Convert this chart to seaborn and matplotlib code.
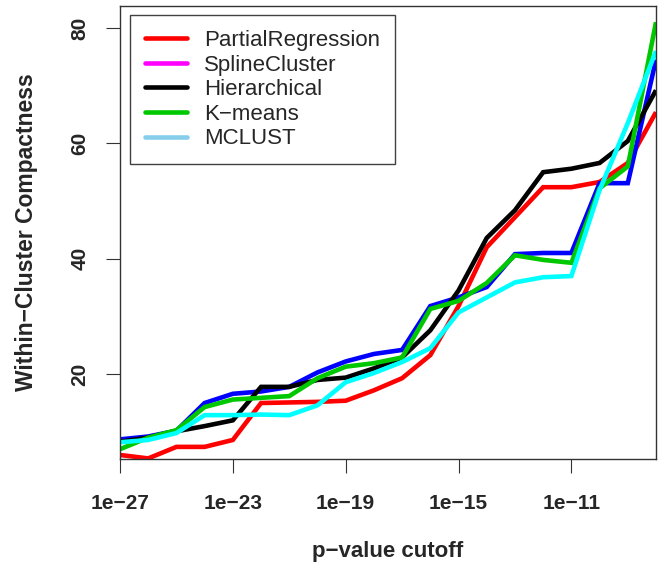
import matplotlib
matplotlib.use("Agg")
import matplotlib.pyplot as plt
from matplotlib.lines import Line2D
import numpy as np
import pandas as pd
import seaborn as sns

# ---- data ----
exponents = list(range(-27, -7))  # p-value cutoff exponents 1e-27 ... 1e-8
partial_regression = [6.0, 5.4, 7.4, 7.4, 8.6, 15.0, 15.1, 15.2, 15.4, 17.2,
                      19.3, 23.3, 31.8, 42.0, 47.2, 52.4, 52.4, 53.3, 56.6, 65.4]
spline_cluster = [8.7, 9.2, 10.2, 15.0, 16.6, 17.0, 17.8, 20.3, 22.2, 23.5,
                  24.2, 31.8, 33.3, 35.1, 40.8, 41.0, 41.0, 53.1, 53.1, 74.5]
hierarchical = [8.3, 9.0, 10.1, 11.0, 12.0, 17.8, 17.8, 19.0, 19.4, 21.0,
                22.9, 27.6, 34.5, 43.6, 48.4, 55.0, 55.6, 56.6, 60.4, 69.2]
kmeans = [7.0, 9.0, 10.3, 14.3, 15.6, 15.9, 16.2, 19.3, 21.3, 21.9,
          22.9, 31.3, 32.7, 35.8, 40.6, 39.8, 39.3, 52.2, 56.0, 81.0]
mclust = [8.2, 8.6, 9.8, 12.9, 12.9, 13.0, 12.9, 14.6, 18.6, 20.2,
          22.1, 24.5, 30.7, 33.3, 35.9, 36.8, 37.0, 51.9, 63.5, 76.0]

methods = ["PartialRegression", "SplineCluster", "Hierarchical", "K\u2212means", "MCLUST"]
series = [partial_regression, spline_cluster, hierarchical, kmeans, mclust]
line_colors = ["#FF0000", "#0000FF", "#000000", "#00C800", "#00FFFF"]
legend_colors = ["#FF0000", "#FF00FF", "#000000", "#00C800", "#87CEEB"]

xtick_exps = [-27, -23, -19, -15, -11]
ytick_vals = [20, 40, 60, 80]

rows = []
for m, vals in zip(methods, series):
    for e, v in zip(exponents, vals):
        rows.append({"cutoff": 10.0 ** e, "value": v, "method": m})
df = pd.DataFrame(rows)

sns.set_style("white")
plt.rcParams["font.family"] = ["Liberation Sans", "DejaVu Sans"]

fig = plt.figure(figsize=(6.58, 5.69), dpi=100)
ax = fig.add_axes([120 / 658, 1 - 459 / 569, 536 / 658, 453 / 569])

sns.lineplot(data=df, x="cutoff", y="value", hue="method", hue_order=methods,
             palette=dict(zip(methods, line_colors)), linewidth=3.3,
             sort=False, legend=False, ax=ax)
for ln in ax.lines:
    ln.set_solid_joinstyle("miter")
    ln.set_solid_capstyle("butt")

ax.set_xscale("log")
ax.set_xlim(1e-27, 1e-8)
ax.set_ylim(5.3, 83.8)
ax.minorticks_off()
ax.set_xticks([10.0 ** e for e in xtick_exps])
ax.set_xticklabels([f"1e\u2212{-e}" for e in xtick_exps], fontsize=15, fontweight="bold")
ax.set_yticks(ytick_vals)
ax.set_yticklabels([str(v) for v in ytick_vals], fontsize=15, fontweight="bold",
                   rotation=90, va="center")

for s in ax.spines.values():
    s.set_visible(True)
    s.set_color("#333333")
    s.set_linewidth(1.0)

ax.tick_params(axis="both", which="major", direction="out", length=10, width=0.8,
               color="#333333", bottom=True, left=True)
ax.tick_params(axis="x", pad=15)
ax.tick_params(axis="y", pad=12)

ax.set_xlabel("p\u2212value cutoff", fontsize=16, fontweight="bold")
ax.set_ylabel("Within\u2212Cluster Compactness", fontsize=16.5, fontweight="bold")
ax.xaxis.set_label_coords((388 - 120) / 536, (459 - 541) / 453)
ax.yaxis.set_label_coords((38 - 120) / 536, 0.5)

handles = [Line2D([0], [0], color=c, linewidth=3.3) for c in legend_colors]
leg = ax.legend(handles, methods, loc="upper left",
                bbox_to_anchor=((130 - 120) / 536, (459 - 15) / 453),
                borderaxespad=0, fontsize=16, handlelength=1.9, handletextpad=0.75,
                labelspacing=0.16, borderpad=0.68, fancybox=False, frameon=True)
leg.get_frame().set_edgecolor("#111111")
leg.get_frame().set_linewidth(1.0)

fig.savefig("out.png", dpi=100, facecolor="white")
